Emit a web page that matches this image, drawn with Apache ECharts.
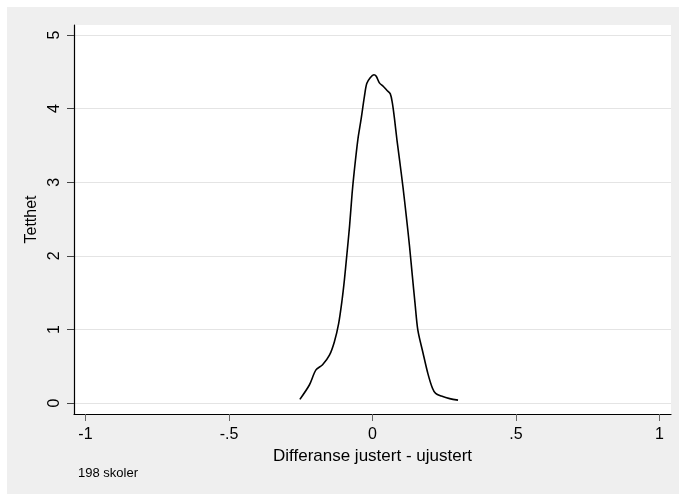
<!DOCTYPE html>
<html>
<head>
<meta charset="utf-8">
<script src="https://cdn.jsdelivr.net/npm/echarts@6/dist/echarts.min.js"></script>
<style>
html,body{margin:0;padding:0;background:#fff;}
#chart{width:679px;height:494px;}
</style>
</head>
<body>
<div id="chart"></div>
<script>
// Kernel density estimate
const densityX = [-0.253, -0.220, -0.197, -0.174, -0.150, -0.133, -0.118, -0.106, -0.098, -0.090, -0.080, -0.071, -0.063, -0.051, -0.040, -0.028, -0.020, -0.008, 0.005, 0.013, 0.024, 0.038, 0.050, 0.062, 0.069, 0.077, 0.085, 0.094, 0.106, 0.118, 0.129, 0.139, 0.148, 0.158, 0.176, 0.193, 0.209, 0.220, 0.240, 0.269, 0.298];
const densityY = [0.05, 0.245, 0.45, 0.52, 0.65, 0.83, 1.08, 1.40, 1.67, 1.99, 2.40, 2.85, 3.17, 3.58, 3.85, 4.17, 4.34, 4.42, 4.46, 4.44, 4.35, 4.30, 4.25, 4.20, 4.08, 3.85, 3.58, 3.31, 2.94, 2.53, 2.13, 1.72, 1.36, 0.99, 0.68, 0.40, 0.20, 0.13, 0.095, 0.06, 0.04];
const xTicks = [-1, -0.5, 0, 0.5, 1];
const xTickLabels = ['-1', '-.5', '0', '.5', '1'];
const yTicks = [0, 1, 2, 3, 4, 5];
const yTickLabels = ['0', '1', '2', '3', '4', '5'];
const xTitle = 'Differanse justert - ujustert';
const yTitle = 'Tetthet';
const noteText = '198 skoler';

const FONT = '"Liberation Sans", Arial, sans-serif';
const chart = echarts.init(document.getElementById('chart'), null, {renderer: 'canvas'});
const seriesData = densityX.map((x, i) => [x, densityY[i]]);

chart.setOption({
  backgroundColor: '#efefef',
  animation: false,
  grid: {
    left: 74, right: 8, top: 25, bottom: 80,
    show: true, backgroundColor: '#ffffff', borderWidth: 0
  },
  xAxis: {
    type: 'value',
    min: -1.04, max: 1.04,
    axisLine: {show: true, onZero: false, lineStyle: {color: '#000', width: 1.2}},
    axisTick: {show: true, length: 7, customValues: xTicks, lineStyle: {color: '#666', width: 1}},
    axisLabel: {
      customValues: xTicks, margin: 13,
      fontFamily: FONT, fontSize: 16, color: '#000',
      formatter: v => { const i = xTicks.findIndex(t => Math.abs(t - v) < 1e-9); return i >= 0 ? xTickLabels[i] : ''; }
    },
    splitLine: {show: false},
    name: xTitle, nameLocation: 'middle', nameGap: 29,
    nameTextStyle: {fontFamily: FONT, fontSize: 17, color: '#000'}
  },
  yAxis: {
    type: 'value',
    min: -0.149, max: 5.136,
    axisLine: {show: true, onZero: false, lineStyle: {color: '#000', width: 1.2}},
    axisTick: {show: true, length: 7, customValues: yTicks, lineStyle: {color: '#444', width: 1}},
    axisLabel: {
      customValues: yTicks, margin: 11, rotate: 90,
      fontFamily: FONT, fontSize: 16, color: '#000',
      formatter: v => { const i = yTicks.findIndex(t => Math.abs(t - v) < 1e-9); return i >= 0 ? yTickLabels[i] : ''; }
    },
    splitLine: {show: true, lineStyle: {color: '#e4e4e4', width: 1.2}},
    name: yTitle, nameLocation: 'middle', nameGap: 31,
    nameTextStyle: {fontFamily: FONT, fontSize: 16, color: '#000'}
  },
  graphic: [
    {type: 'rect', left: 0, top: 0, shape: {width: 679, height: 7}, style: {fill: '#ffffff'}, silent: true},
    {type: 'rect', left: 0, top: 0, shape: {width: 7, height: 494}, style: {fill: '#ffffff'}, silent: true},
    {type: 'text', left: 78, top: 467, style: {text: noteText, font: '13px ' + FONT, fill: '#000'}}
  ],
  series: [{
    type: 'line',
    data: seriesData,
    showSymbol: false,
    smooth: 0.3,
    lineStyle: {color: '#000', width: 1.6},
    z: 3
  }]
});
</script>
</body>
</html>
